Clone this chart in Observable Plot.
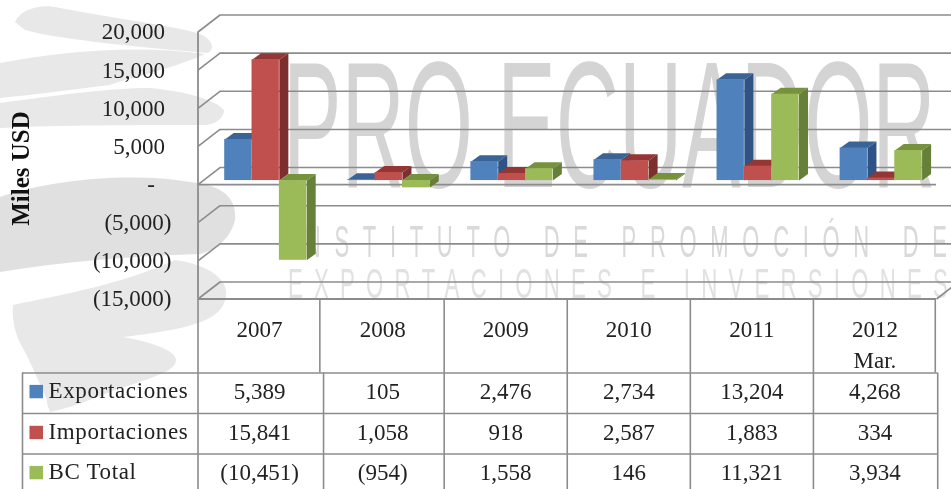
<!DOCTYPE html>
<html lang="es">
<head>
<meta charset="utf-8">
<script src="https://cdn.jsdelivr.net/npm/d3@7"></script>
<script src="https://cdn.jsdelivr.net/npm/@observablehq/plot@0.6"></script>
<style>
  html, body { margin: 0; padding: 0; background: #fff; width: 951px; height: 489px; overflow: hidden; }
  #page { position: relative; width: 951px; height: 489px; filter: blur(0.45px); }
  #page > * { position: absolute; left: 0; }
</style>
</head>
<body>
<div id="page">
  <svg id="mark" width="951" height="489" style="top:0" aria-hidden="true">
    <g fill="#e8e8e8">
      <path d="M15,22 C20,10 40,3 60,8 C110,18 170,25 197,33 C212,38 216,48 208,53 C150,48 60,40 25,30 Z"/>
      <path d="M0,63 C70,50 140,45 205,54 C170,70 120,80 110,85 C70,90 30,95 0,98 Z"/>
      <path d="M0,103 C60,95 110,88 150,88 C190,92 215,100 224,110 C224,120 212,125 205,125 C140,125 60,125 0,128 Z"/>
      <path d="M13,305 C60,295 120,285 175,260 C210,265 228,280 226,295 C224,318 200,328 123,337 C150,342 176,350 176,360 C176,372 150,378 110,392 C90,400 70,408 50,412 C47,405 47,402 47,400 C38,380 30,360 20,343 C14,330 12,318 13,305 Z"/>
    </g>
    <path fill="#e0e0e0" d="M0,197 C50,180 130,172 190,182 C225,185 237,200 235,220 C230,240 215,250 200,254 C130,256 60,262 0,272 Z"/>
    <text transform="translate(283,187) scale(0.487,1)" font-family="Liberation Sans" font-size="180" fill="#d4d4d4" xml:space="preserve">PRO ECUADOR</text>
    <text transform="translate(285,257) scale(0.5,1)" font-family="Liberation Sans" font-size="44" fill="#d9d9d9" textLength="1324" lengthAdjust="spacing">INSTITUTO DE PROMOCIÓN DE</text>
    <text transform="translate(288,298) scale(0.53,1)" font-family="Liberation Sans" font-size="42" fill="#e1e1e1" textLength="1245" lengthAdjust="spacing">EXPORTACIONES E INVERSIONES</text>
  </svg>
</div>
<script>
const categories = ["2007", "2008", "2009", "2010", "2011", "2012"];
const seriesNames = ["Exportaciones", "Importaciones", "BC Total"];
const exportaciones = [5389, 105, 2476, 2734, 13204, 4268];
const importaciones = [15841, 1058, 918, 2587, 1883, 334];
const bcTotal = [-10451, -954, 1558, 146, 11321, 3934];
const yTicks = [20000, 15000, 10000, 5000, 0, -5000, -10000, -15000];
const frontColors = ["#4f81bd", "#c0504d", "#9bbb59"];
const sideColors = ["#2f5384", "#7c2f2d", "#66803a"];
const topColors = ["#3a6496", "#943634", "#76923c"];

const seriesValues = [exportaciones, importaciones, bcTotal];
const serif = "Liberation Serif";
const ink = "#222";
const gridColor = "#8c8c8c";

// depth of the wall and of a bar, in scale units
const wallDX = 22 / 123.08, wallDY = 17 / 7.63 * 1000;
const barDX = 9 / 123.08, barDY = 6.5 / 7.63 * 1000;
const barStart = 0.217, barWidth = 0.222;

const fmtNum = d3.format(",");
const fmtVal = v => v < 0 ? `(${fmtNum(-v)})` : fmtNum(v);

const xScale = {domain: [0, 6], range: [197.5, 936], axis: null};

const barMarks = seriesValues.flatMap((values, s) => {
  const bars = values.map((v, i) => {
    const a = i + barStart + s * barWidth;
    return {id: i, v, a, b: a + barWidth, t: Math.max(v, 0), l: Math.min(v, 0)};
  });
  const tops = bars.flatMap(d => [
    {id: d.id, x: d.a, y: d.t}, {id: d.id, x: d.b, y: d.t},
    {id: d.id, x: d.b + barDX, y: d.t + barDY}, {id: d.id, x: d.a + barDX, y: d.t + barDY}
  ]);
  const sides = bars.flatMap(d => [
    {id: d.id, x: d.b, y: d.t}, {id: d.id, x: d.b + barDX, y: d.t + barDY},
    {id: d.id, x: d.b + barDX, y: d.l + barDY}, {id: d.id, x: d.b, y: d.l}
  ]);
  const face = {x: "x", y: "y", z: "id", stroke: "none", dy: -4};
  return [
    Plot.line(tops, {...face, fill: topColors[s]}),
    Plot.line(sides, {...face, fill: sideColors[s]}),
    Plot.rect(bars, {x1: "a", x2: "b", y1: 0, y2: "v", fill: frontColors[s], dy: -4})
  ];
});

const tickText = {x: 0, y: d => d, fontFamily: serif, fontSize: 23, fill: ink, textAnchor: "end"};

const chart = Plot.plot({
  width: 951, height: 300, margin: 0,
  style: {background: "transparent", overflow: "visible"},
  x: xScale,
  y: {domain: [-15000, 20000], range: [298.5, 31.5], axis: null},
  marks: [
    Plot.ruleY(yTicks, {y: d => d + wallDY, x1: wallDX, x2: 6 + wallDX, stroke: gridColor, strokeWidth: 1.6}),
    Plot.link(yTicks, {x1: 0, y1: d => d, x2: wallDX, y2: d => d + wallDY, stroke: gridColor, strokeWidth: 1.6}),
    Plot.link([-15000], {x1: 6, y1: d => d, x2: 6 + wallDX, y2: d => d + wallDY, stroke: gridColor, strokeWidth: 1.6}),
    Plot.ruleX([0], {y1: -15000, y2: 20000, stroke: gridColor, strokeWidth: 1.8}),
    Plot.ruleY([0, -15000], {x1: 0, x2: 6, stroke: gridColor, strokeWidth: 1.8}),
    ...barMarks,
    Plot.text(yTicks.filter(d => d > 0), {...tickText, text: fmtNum, dx: -33}),
    Plot.text(yTicks.filter(d => d === 0), {...tickText, text: () => "-", dx: -43}),
    Plot.text(yTicks.filter(d => d < 0), {...tickText, text: fmtVal, dx: -26.5}),
    Plot.text(["Miles USD"], {
      x: 0, y: 2100, text: d => d, dx: -177, rotate: -90,
      fontFamily: serif, fontSize: 25, fontWeight: "bold", fill: "#111"
    })
  ]
});
chart.style.top = "0";

// table under the chart: vertical position counts rows of fixed height
const rowEdges = [1.815, 2.815, 3.815];
const rowCenters = [2.27, 3.28, 4.27];
const labelEdge = -1.426;
const upperEdges = [0, 0.99, 2, 3, 4, 5, 5.99];
const lowerEdges = [0, 1.02, 2, 3, 4, 5, 6.01];
const rows = seriesNames.map((name, s) => ({name, s, y: rowCenters[s]}));
const cells = seriesValues.flatMap((values, s) =>
  values.map((v, i) => ({x: i + 0.5, y: rowCenters[s], text: fmtVal(v)})));
const cellText = {fontFamily: serif, fontSize: 23, fill: ink};

const table = Plot.plot({
  width: 951, height: 190, margin: 0,
  style: {background: "transparent", overflow: "visible"},
  x: xScale,
  y: {domain: [0, 4.69], range: [0, 190], axis: null},
  marks: [
    Plot.ruleX(upperEdges, {y1: 0, y2: 1.815, stroke: gridColor, strokeWidth: 1.6}),
    Plot.ruleX(lowerEdges, {y1: 1.815, y2: 4.69, stroke: gridColor, strokeWidth: 1.6}),
    Plot.ruleX([labelEdge], {y1: 1.815, y2: 4.69, stroke: gridColor, strokeWidth: 1.6}),
    Plot.ruleY(rowEdges, {x1: labelEdge, x2: 6.01, stroke: gridColor, strokeWidth: 1.6}),
    Plot.text(categories, {x: (d, i) => i + 0.5, y: 0.74, text: d => d, ...cellText}),
    Plot.text(["Mar."], {x: 5.5, y: 1.52, text: d => d, ...cellText}),
    Plot.rect(rows, {
      x1: -1.365, x2: -1.255, y1: d => d.y - 0.15, y2: d => d.y + 0.18,
      fill: d => frontColors[d.s]
    }),
    Plot.text(rows, {
      x: -1.215, y: d => d.y - 0.02, text: "name", textAnchor: "start", ...cellText
    }),
    Plot.text(cells, {x: "x", y: "y", text: "text", ...cellText})
  ]
});
table.style.top = "299px";
d3.select(table).selectAll("text")
  .filter(function () { return seriesNames.includes(this.textContent); })
  .style("letter-spacing", "0.65px");

document.getElementById("page").append(chart, table);
</script>
</body>
</html>
